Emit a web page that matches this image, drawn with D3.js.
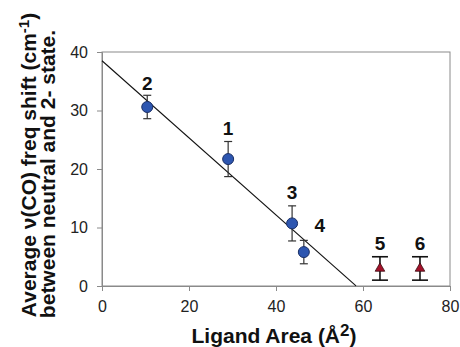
<!DOCTYPE html>
<html>
<head>
<meta charset="utf-8">
<script src="https://cdn.jsdelivr.net/npm/d3@7"></script>
<style>
  body { margin: 0; background: #fff; }
  text { font-family: "Liberation Sans", Arial, sans-serif; }
</style>
</head>
<body>
<script>
// ligand data
var labels = ["2", "1", "3", "4"];
var area = [10.4, 29.0, 43.7, 46.4];
var shift = [30.6, 21.7, 10.7, 5.8];
var err = [2.0, 3.0, 3.0, 2.0];

var triLabels = ["5", "6"];
var triArea = [63.9, 73.1];
var triShift = [3.0, 3.0];
var triErr = [2.0, 2.0];

// fitted line endpoints (x values)
var fitX = [0, 58.4];
var fitIntercept = 38.5, fitSlope = -0.659;

var xTicks = [0, 20, 40, 60, 80];
var yTicks = [0, 10, 20, 30, 40];

var width = 460, height = 347;
var mLeft = 102, mRight = 450, mTop = 52, mBottom = 286;

var svg = d3.select("body").append("svg")
    .attr("width", width)
    .attr("height", height);

var x = d3.scaleLinear().domain([0, 80]).range([mLeft, mRight]);
var y = d3.scaleLinear().domain([0, 40]).range([mBottom, mTop]);

//frame
svg.append("rect")
    .attr("x", mLeft).attr("y", mTop)
    .attr("width", mRight - mLeft).attr("height", mBottom - mTop)
    .style("fill", "none").style("stroke", "#8a8a8a").style("stroke-width", 1);

var xAxis = svg.append("g")
    .attr("transform", "translate(0," + mBottom + ")")
    .call(d3.axisBottom(x).tickValues(xTicks).tickSize(5).tickPadding(10));
var yAxis = svg.append("g")
    .attr("transform", "translate(" + mLeft + ",0)")
    .call(d3.axisLeft(y).tickValues(yTicks).tickSize(5).tickPadding(9));

[xAxis, yAxis].forEach(function(g) {
    g.selectAll("path, line").style("stroke", "#8a8a8a");
    g.selectAll("text").style("font-size", "16px").style("fill", "#222")
        .style("font-family", "'Liberation Sans', Arial, sans-serif");
});

// regression line
svg.append("line")
    .attr("x1", x(fitX[0])).attr("y1", y(fitIntercept + fitSlope * fitX[0]))
    .attr("x2", x(fitX[1])).attr("y2", y(fitIntercept + fitSlope * fitX[1]))
    .style("stroke", "#111").style("stroke-width", 1.1);

// error bars, circles
var pts = d3.range(area.length);
var g1 = svg.append("g");
g1.selectAll("line.eb").data(pts).enter().append("line")
    .attr("x1", i => x(area[i])).attr("x2", i => x(area[i]))
    .attr("y1", i => y(shift[i] + err[i])).attr("y2", i => y(shift[i] - err[i]))
    .style("stroke", "#333").style("stroke-width", 1.2);
[1, -1].forEach(function(s) {
    g1.selectAll("line.cap" + s).data(pts).enter().append("line")
        .attr("x1", i => x(area[i]) - 4).attr("x2", i => x(area[i]) + 4)
        .attr("y1", i => y(shift[i] + s * err[i])).attr("y2", i => y(shift[i] + s * err[i]))
        .style("stroke", "#333").style("stroke-width", 1.2);
});
g1.selectAll("circle").data(pts).enter().append("circle")
    .attr("cx", i => x(area[i])).attr("cy", i => y(shift[i]))
    .attr("r", 5.5)
    .style("fill", "#2d56b0").style("stroke", "#1a2f66").style("stroke-width", 1);

// label offsets (point 4 sits to the right)
var labDx = [0, 0, 0, 16], labDy = [-17, -24, -24, -20];
g1.selectAll("text").data(pts).enter().append("text")
    .text(i => labels[i])
    .attr("x", i => x(area[i]) + labDx[i])
    .attr("y", i => y(shift[i]) + labDy[i])
    .attr("text-anchor", "middle")
    .style("font-size", "19px").style("font-weight", "bold").style("fill", "#111");

// triangles
var tpts = d3.range(triArea.length);
var g2 = svg.append("g");
g2.selectAll("line.eb").data(tpts).enter().append("line")
    .attr("x1", i => x(triArea[i])).attr("x2", i => x(triArea[i]))
    .attr("y1", i => y(triShift[i] + triErr[i])).attr("y2", i => y(triShift[i] - triErr[i]))
    .style("stroke", "#111").style("stroke-width", 1.6);
[1, -1].forEach(function(s) {
    g2.selectAll("line.cap" + s).data(tpts).enter().append("line")
        .attr("x1", i => x(triArea[i]) - 8).attr("x2", i => x(triArea[i]) + 8)
        .attr("y1", i => y(triShift[i] + s * triErr[i])).attr("y2", i => y(triShift[i] + s * triErr[i]))
        .style("stroke", "#111").style("stroke-width", 1.6);
});
g2.selectAll("path").data(tpts).enter().append("path")
    .attr("d", d3.symbol().type(d3.symbolTriangle).size(40))
    .attr("transform", i => "translate(" + x(triArea[i]) + "," + y(triShift[i]) + ")")
    .style("fill", "#a3122a").style("stroke", "#3a0a10").style("stroke-width", 0.8);
g2.selectAll("text").data(tpts).enter().append("text")
    .text(i => triLabels[i])
    .attr("x", i => x(triArea[i]))
    .attr("y", i => y(triShift[i]) - 18)
    .attr("text-anchor", "middle")
    .style("font-size", "19px").style("font-weight", "bold").style("fill", "#111");

// axis titles
var xt = svg.append("text")
    .attr("x", 274).attr("y", 343)
    .attr("text-anchor", "middle")
    .style("font-size", "21px").style("font-weight", "bold").style("fill", "#111");
xt.append("tspan").text("Ligand Area (Å");
xt.append("tspan").text("2").attr("dy", -7).style("font-size", "17px");
xt.append("tspan").text(")").attr("dy", 7);

var yt = svg.append("text")
    .attr("transform", "translate(35.5,165) rotate(-90)")
    .attr("text-anchor", "middle")
    .style("font-size", "21px").style("font-weight", "bold").style("fill", "#111");
yt.append("tspan").text("Average ν(CO) freq shift (cm");
yt.append("tspan").text("-1").attr("dy", -7).style("font-size", "15px");
yt.append("tspan").text(")").attr("dy", 7);

svg.append("text")
    .attr("transform", "translate(54.5,174) rotate(-90)")
    .attr("text-anchor", "middle")
    .style("font-size", "21px").style("font-weight", "bold").style("fill", "#111")
    .text("between neutral and 2- state.");
</script>
</body>
</html>
